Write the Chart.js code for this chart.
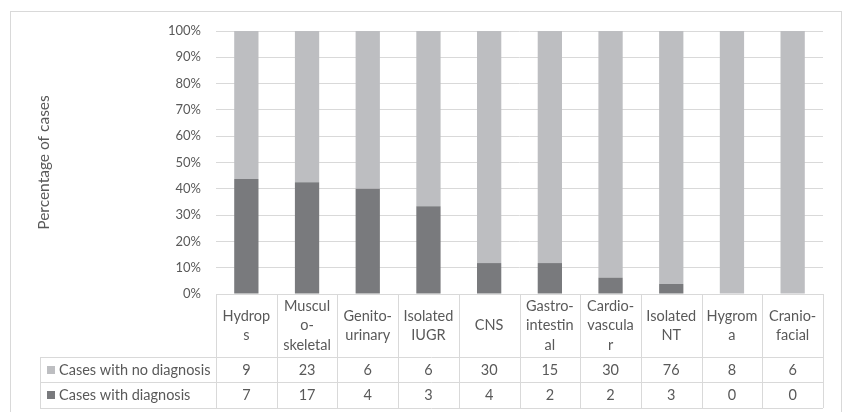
<!DOCTYPE html>
<html>
<head>
<meta charset="utf-8">
<script src="https://cdn.jsdelivr.net/npm/chart.js@4/dist/chart.umd.min.js"></script>
<style>
  html, body { margin: 0; padding: 0; background: #ffffff; }
  canvas { display: block; }
</style>
</head>
<body>
<canvas id="c" width="843" height="412"></canvas>
<script>
// ---- data ----
const categories = ["Hydrops", "Musculo-skeletal", "Genito-urinary", "Isolated IUGR", "CNS",
  "Gastro-intestinal", "Cardio-vascular", "Isolated NT", "Hygroma", "Cranio-facial"];
const categoryLines = [["Hydrop", "s"], ["Muscul", "o-", "skeletal"], ["Genito-", "urinary"],
  ["Isolated", "IUGR"], ["CNS"], ["Gastro-", "intestin", "al"], ["Cardio-", "vascula", "r"],
  ["Isolated", "NT"], ["Hygrom", "a"], ["Cranio-", "facial"]];
const casesNoDiagnosis = [9, 23, 6, 6, 30, 15, 30, 76, 8, 6];
const casesDiagnosis = [7, 17, 4, 3, 4, 2, 2, 3, 0, 0];
const seriesNames = ["Cases with no diagnosis", "Cases with diagnosis"];
const yTicks = [0, 10, 20, 30, 40, 50, 60, 70, 80, 90, 100];

const pctDiag = casesDiagnosis.map((d, i) => d / (d + casesNoDiagnosis[i]) * 100);
const pctNo = casesNoDiagnosis.map((n, i) => n / (n + casesDiagnosis[i]) * 100);

const LIGHT = "#bdbec1";
const DARK = "#797a7d";
const TEXT = "#595959";
const LINE = "#d9d9d9";
const FONT = "Lato, 'Open Sans', sans-serif";

const tablePlugin = {
  id: "dataTable",
  beforeDraw(chart) {
    const ctx = chart.ctx;
    ctx.save();
    ctx.strokeStyle = LINE;
    ctx.lineWidth = 1;
    ctx.strokeRect(10.5, 11.5, 831, 420);
    ctx.restore();
  },
  afterDraw(chart) {
    const ctx = chart.ctx;
    const x = chart.scales.x;
    const area = chart.chartArea;
    const n = categories.length;
    const bounds = [area.left];
    for (let i = 0; i < n - 1; i++) {
      bounds.push((x.getPixelForValue(i) + x.getPixelForValue(i + 1)) / 2);
    }
    bounds.push(area.right);

    const yTop = area.bottom;
    const yHead = 357.5;
    const yRow1 = 382.5;
    const yRow2 = 408;
    const legLeft = 40;

    ctx.save();
    ctx.strokeStyle = LINE;
    ctx.lineWidth = 1;
    ctx.beginPath();
    ctx.moveTo(area.left, Math.round(yTop) + 0.5); ctx.lineTo(area.right, Math.round(yTop) + 0.5);
    [yHead, yRow1, yRow2].forEach(yy => {
      ctx.moveTo(legLeft, Math.floor(yy) + 0.5); ctx.lineTo(area.right, Math.floor(yy) + 0.5);
    });
    bounds.forEach(bx => {
      const px = Math.round(bx) + 0.5;
      ctx.moveTo(px, yTop); ctx.lineTo(px, yRow2);
    });
    ctx.moveTo(legLeft + 0.5, yHead); ctx.lineTo(legLeft + 0.5, yRow2);
    ctx.stroke();

    ctx.fillStyle = TEXT;
    ctx.font = "14.5px " + FONT;
    ctx.textAlign = "center";
    ctx.textBaseline = "middle";
    const lh = 19.5;
    const headMid = (yTop + yHead) / 2;
    categoryLines.forEach((lines, i) => {
      const cx = (bounds[i] + bounds[i + 1]) / 2;
      const start = headMid - (lines.length - 1) * lh / 2;
      lines.forEach((t, j) => ctx.fillText(t, cx, start + j * lh));
    });

    const rows = [casesNoDiagnosis, casesDiagnosis];
    const rowMids = [(yHead + yRow1) / 2, (yRow1 + yRow2) / 2];
    const keyColors = [LIGHT, DARK];
    rows.forEach((vals, r) => {
      vals.forEach((v, i) => {
        const cx = (bounds[i] + bounds[i + 1]) / 2;
        ctx.fillStyle = TEXT;
        ctx.textAlign = "center";
        ctx.fillText(String(v), cx, rowMids[r] + 0.5);
      });
      ctx.fillStyle = keyColors[r];
      ctx.fillRect(47, Math.round(rowMids[r]) - 4, 8, 8);
      ctx.fillStyle = TEXT;
      ctx.textAlign = "left";
      ctx.fillText(seriesNames[r], 59, rowMids[r] + 0.5);
    });
    ctx.restore();
  }
};

new Chart(document.getElementById("c"), {
  type: "bar",
  data: {
    labels: categories,
    datasets: [
      { label: seriesNames[1], data: pctDiag, backgroundColor: DARK, stack: "s" },
      { label: seriesNames[0], data: pctNo, backgroundColor: LIGHT, stack: "s" }
    ]
  },
  options: {
    responsive: false,
    devicePixelRatio: 1,
    animation: false,
    layout: { padding: { left: 0, right: 20, top: 31, bottom: 118 } },
    datasets: { bar: { categoryPercentage: 1.0, barPercentage: 0.4 } },
    plugins: { legend: { display: false }, tooltip: { enabled: false } },
    scales: {
      x: { display: false, stacked: true },
      y: {
        stacked: true,
        min: 0, max: 100,
        afterFit(s) { s.width = 216; },
        afterBuildTicks(s) { s.ticks = yTicks.map(v => ({ value: v })); },
        border: { display: false },
        grid: { color: LINE, lineWidth: 1, drawTicks: false },
        ticks: {
          padding: 15,
          color: TEXT,
          font: { family: FONT, size: 13 },
          callback: v => v + "%"
        },
        title: {
          display: true,
          text: "Percentage of cases",
          color: TEXT,
          font: { family: FONT, size: 15.5 },
          padding: { top: 35, bottom: 0 }
        }
      }
    }
  },
  plugins: [tablePlugin]
});
</script>
</body>
</html>
